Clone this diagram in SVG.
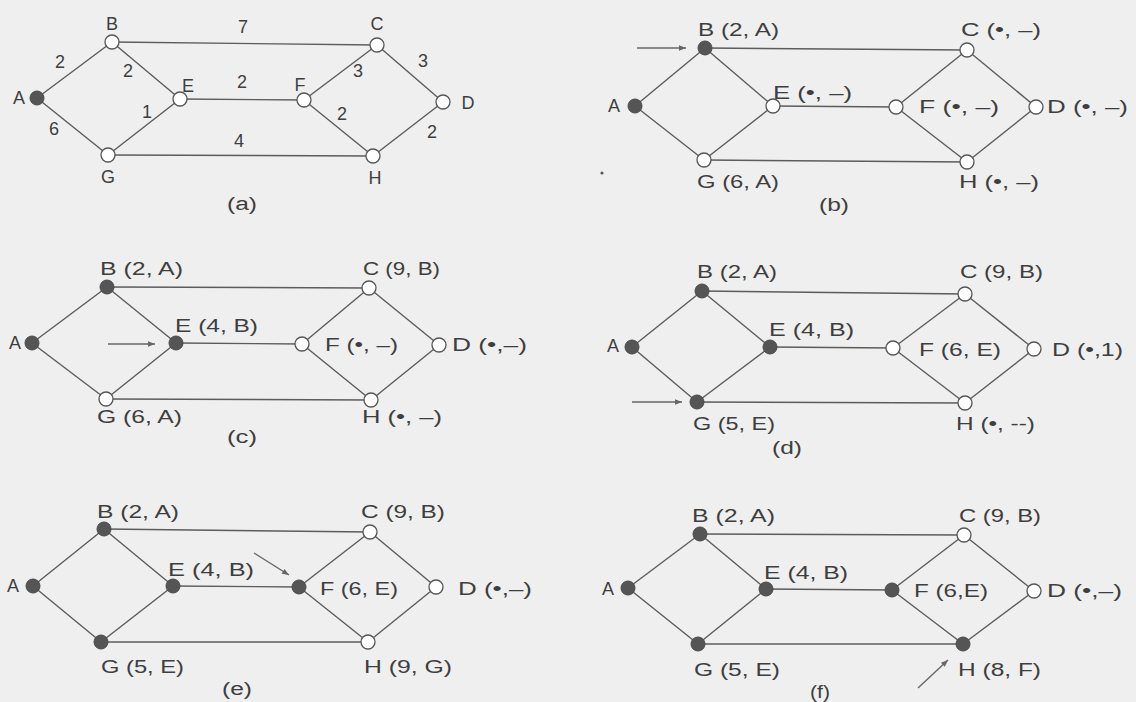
<svg xmlns="http://www.w3.org/2000/svg" width="1136" height="702" viewBox="0 0 1136 702">
<style>
.e{stroke:#5c5c5c;stroke-width:1.4;fill:none}
.o{fill:#fff;stroke:#555;stroke-width:1.3}
.f{fill:#555;stroke:#4a4a4a;stroke-width:1}
.t{font-family:"Liberation Sans",Arial,sans-serif;font-size:18px;fill:#3e3e3e}
.m{text-anchor:middle}
.ar{stroke:#666;stroke-width:1.4;fill:none;marker-end:url(#ah)}
</style>
<defs>
<marker id="ah" viewBox="0 0 10 10" refX="10" refY="5" markerWidth="10" markerHeight="7" markerUnits="userSpaceOnUse" orient="auto"><path d="M0,1 L10,5 L0,9 z" fill="#666"/></marker>
</defs>
<rect width="1136" height="702" fill="#efefef"/>
<circle cx="602" cy="173" r="1.6" fill="#555"/>
<g id="connectors">
<!-- (a) -->
<line class="e" x1="37" y1="98" x2="112" y2="42"/><line class="e" x1="37" y1="98" x2="108" y2="155"/>
<line class="e" x1="112" y1="42" x2="180" y2="99"/><line class="e" x1="108" y1="155" x2="180" y2="99"/>
<line class="e" x1="112" y1="42" x2="377" y2="45"/><line class="e" x1="180" y1="99" x2="304" y2="100"/>
<line class="e" x1="108" y1="155" x2="373" y2="156"/><line class="e" x1="304" y1="100" x2="377" y2="45"/>
<line class="e" x1="304" y1="100" x2="373" y2="156"/><line class="e" x1="377" y1="45" x2="443" y2="102"/>
<line class="e" x1="373" y1="156" x2="443" y2="102"/>
<!-- (b) -->
<line class="e" x1="635" y1="106" x2="705" y2="48"/><line class="e" x1="635" y1="106" x2="704" y2="160"/>
<line class="e" x1="705" y1="48" x2="773" y2="106"/><line class="e" x1="704" y1="160" x2="773" y2="106"/>
<line class="e" x1="705" y1="48" x2="967" y2="50"/><line class="e" x1="773" y1="106" x2="896" y2="107"/>
<line class="e" x1="704" y1="160" x2="967" y2="162"/><line class="e" x1="896" y1="107" x2="967" y2="50"/>
<line class="e" x1="896" y1="107" x2="967" y2="162"/><line class="e" x1="967" y1="50" x2="1036" y2="107"/>
<line class="e" x1="967" y1="162" x2="1036" y2="107"/>
<line class="ar" x1="637" y1="48" x2="686" y2="48"/>
<!-- (c) -->
<line class="e" x1="32" y1="343" x2="107" y2="287"/><line class="e" x1="32" y1="343" x2="106" y2="399"/>
<line class="e" x1="107" y1="287" x2="176" y2="343"/><line class="e" x1="106" y1="399" x2="176" y2="343"/>
<line class="e" x1="107" y1="287" x2="369" y2="288"/><line class="e" x1="176" y1="343" x2="302" y2="344"/>
<line class="e" x1="106" y1="399" x2="371" y2="400"/><line class="e" x1="302" y1="344" x2="369" y2="288"/>
<line class="e" x1="302" y1="344" x2="371" y2="400"/><line class="e" x1="369" y1="288" x2="439" y2="345"/>
<line class="e" x1="371" y1="400" x2="439" y2="345"/>
<line class="ar" x1="108" y1="344" x2="155" y2="344"/>
<!-- (d) -->
<line class="e" x1="632" y1="347" x2="702" y2="291"/><line class="e" x1="632" y1="347" x2="697" y2="402"/>
<line class="e" x1="702" y1="291" x2="770" y2="347"/><line class="e" x1="697" y1="402" x2="770" y2="347"/>
<line class="e" x1="702" y1="291" x2="965" y2="294"/><line class="e" x1="770" y1="347" x2="893" y2="348"/>
<line class="e" x1="697" y1="402" x2="965" y2="403"/><line class="e" x1="893" y1="348" x2="965" y2="294"/>
<line class="e" x1="893" y1="348" x2="965" y2="403"/><line class="e" x1="965" y1="294" x2="1034" y2="349"/>
<line class="e" x1="965" y1="403" x2="1034" y2="349"/>
<line class="ar" x1="632" y1="402" x2="682" y2="402"/>
<!-- (e) -->
<line class="e" x1="33" y1="586" x2="104" y2="529"/><line class="e" x1="33" y1="586" x2="101" y2="642"/>
<line class="e" x1="104" y1="529" x2="173" y2="586"/><line class="e" x1="101" y1="642" x2="173" y2="586"/>
<line class="e" x1="104" y1="529" x2="370" y2="532"/><line class="e" x1="173" y1="586" x2="299" y2="587"/>
<line class="e" x1="101" y1="642" x2="368" y2="642"/><line class="e" x1="299" y1="587" x2="370" y2="532"/>
<line class="e" x1="299" y1="587" x2="368" y2="642"/><line class="e" x1="370" y1="532" x2="436" y2="587"/>
<line class="e" x1="368" y1="642" x2="436" y2="587"/>
<line class="ar" x1="254" y1="553" x2="289" y2="575"/>
<!-- (f) -->
<line class="e" x1="628" y1="588" x2="700" y2="534"/><line class="e" x1="628" y1="588" x2="698" y2="644"/>
<line class="e" x1="700" y1="534" x2="766" y2="589"/><line class="e" x1="698" y1="644" x2="766" y2="589"/>
<line class="e" x1="700" y1="534" x2="964" y2="535"/><line class="e" x1="766" y1="589" x2="892" y2="590"/>
<line class="e" x1="698" y1="644" x2="963" y2="644"/><line class="e" x1="892" y1="590" x2="964" y2="535"/>
<line class="e" x1="892" y1="590" x2="963" y2="644"/><line class="e" x1="964" y1="535" x2="1034" y2="591"/>
<line class="e" x1="963" y1="644" x2="1034" y2="591"/>
<line class="ar" x1="918" y1="688" x2="948" y2="660"/>
</g>
<g id="weights-a" class="t m">
<text x="243" y="33">7</text><text x="60" y="68">2</text><text x="128" y="77">2</text>
<text x="54" y="135">6</text><text x="147" y="118">1</text><text x="242" y="88">2</text>
<text x="358" y="77">3</text><text x="423" y="67">3</text><text x="342" y="120">2</text>
<text x="432" y="138">2</text><text x="239" y="147">4</text>
</g>
<!-- panel (a) nodes -->
<g id="a-A"><circle class="f" cx="37" cy="98" r="7"/><text class="t m" x="19" y="104">A</text></g>
<g id="a-B"><circle class="o" cx="112" cy="42" r="7"/><text class="t m" x="112" y="30">B</text></g>
<g id="a-C"><circle class="o" cx="377" cy="45" r="7"/><text class="t m" x="377" y="30">C</text></g>
<g id="a-E"><circle class="o" cx="180" cy="99" r="7"/><text class="t m" x="188" y="92">E</text></g>
<g id="a-F"><circle class="o" cx="304" cy="100" r="7"/><text class="t m" x="300" y="91">F</text></g>
<g id="a-D"><circle class="o" cx="443" cy="102" r="7"/><text class="t m" x="468" y="109">D</text></g>
<g id="a-G"><circle class="o" cx="108" cy="155" r="7"/><text class="t m" x="108" y="183">G</text></g>
<g id="a-H"><circle class="o" cx="373" cy="156" r="7"/><text class="t m" x="375" y="184">H</text></g>
<text class="t m" x="242" y="210" textLength="30" lengthAdjust="spacingAndGlyphs">(a)</text>
<!-- panel (b) nodes -->
<g id="b-A"><circle class="f" cx="635" cy="106" r="7"/><text class="t m" x="614" y="112">A</text></g>
<g id="b-B"><circle class="f" cx="705" cy="48" r="7"/><text class="t" x="698" y="36" textLength="81" lengthAdjust="spacingAndGlyphs">B (2, A)</text></g>
<g id="b-C"><circle class="o" cx="967" cy="50" r="7"/><text class="t" x="961" y="36" textLength="80" lengthAdjust="spacingAndGlyphs">C (•, –)</text></g>
<g id="b-E"><circle class="o" cx="773" cy="106" r="7"/><text class="t" x="773" y="99" textLength="79" lengthAdjust="spacingAndGlyphs">E (•, –)</text></g>
<g id="b-F"><circle class="o" cx="896" cy="107" r="7"/><text class="t" x="919" y="113" textLength="80" lengthAdjust="spacingAndGlyphs">F (•, –)</text></g>
<g id="b-D"><circle class="o" cx="1036" cy="107" r="7"/><text class="t" x="1047" y="113" textLength="81" lengthAdjust="spacingAndGlyphs">D (•, –)</text></g>
<g id="b-G"><circle class="o" cx="704" cy="160" r="7"/><text class="t" x="697" y="188" textLength="82" lengthAdjust="spacingAndGlyphs">G (6, A)</text></g>
<g id="b-H"><circle class="o" cx="967" cy="162" r="7"/><text class="t" x="959" y="188" textLength="80" lengthAdjust="spacingAndGlyphs">H (•, –)</text></g>
<text class="t m" x="834" y="211" textLength="30" lengthAdjust="spacingAndGlyphs">(b)</text>
<!-- panel (c) nodes -->
<g id="c-A"><circle class="f" cx="32" cy="343" r="7"/><text class="t m" x="15" y="349">A</text></g>
<g id="c-B"><circle class="f" cx="107" cy="287" r="7"/><text class="t" x="100" y="275" textLength="83" lengthAdjust="spacingAndGlyphs">B (2, A)</text></g>
<g id="c-C"><circle class="o" cx="369" cy="288" r="7"/><text class="t" x="363" y="275" textLength="77" lengthAdjust="spacingAndGlyphs">C (9, B)</text></g>
<g id="c-E"><circle class="f" cx="176" cy="343" r="7"/><text class="t" x="175" y="332" textLength="83" lengthAdjust="spacingAndGlyphs">E (4, B)</text></g>
<g id="c-F"><circle class="o" cx="302" cy="344" r="7"/><text class="t" x="325" y="351" textLength="73" lengthAdjust="spacingAndGlyphs">F (•, –)</text></g>
<g id="c-D"><circle class="o" cx="439" cy="345" r="7"/><text class="t" x="452" y="351" textLength="75" lengthAdjust="spacingAndGlyphs">D (•,–)</text></g>
<g id="c-G"><circle class="o" cx="106" cy="399" r="7"/><text class="t" x="97" y="423" textLength="85" lengthAdjust="spacingAndGlyphs">G (6, A)</text></g>
<g id="c-H"><circle class="o" cx="371" cy="400" r="7"/><text class="t" x="362" y="423" textLength="80" lengthAdjust="spacingAndGlyphs">H (•, –)</text></g>
<text class="t m" x="242" y="443" textLength="30" lengthAdjust="spacingAndGlyphs">(c)</text>
<!-- panel (d) nodes -->
<g id="d-A"><circle class="f" cx="632" cy="347" r="7"/><text class="t m" x="613" y="352">A</text></g>
<g id="d-B"><circle class="f" cx="702" cy="291" r="7"/><text class="t" x="697" y="278" textLength="80" lengthAdjust="spacingAndGlyphs">B (2, A)</text></g>
<g id="d-C"><circle class="o" cx="965" cy="294" r="7"/><text class="t" x="960" y="278" textLength="83" lengthAdjust="spacingAndGlyphs">C (9, B)</text></g>
<g id="d-E"><circle class="f" cx="770" cy="347" r="7"/><text class="t" x="769" y="336" textLength="85" lengthAdjust="spacingAndGlyphs">E (4, B)</text></g>
<g id="d-F"><circle class="o" cx="893" cy="348" r="7"/><text class="t" x="919" y="356" textLength="82" lengthAdjust="spacingAndGlyphs">F (6, E)</text></g>
<g id="d-D"><circle class="o" cx="1034" cy="349" r="7"/><text class="t" x="1052" y="356" textLength="71" lengthAdjust="spacingAndGlyphs">D (•,1)</text></g>
<g id="d-G"><circle class="f" cx="697" cy="402" r="7"/><text class="t" x="693" y="430" textLength="82" lengthAdjust="spacingAndGlyphs">G (5, E)</text></g>
<g id="d-H"><circle class="o" cx="965" cy="403" r="7"/><text class="t" x="956" y="430" textLength="79" lengthAdjust="spacingAndGlyphs">H (•, --)</text></g>
<text class="t m" x="787" y="454" textLength="30" lengthAdjust="spacingAndGlyphs">(d)</text>
<!-- panel (e) nodes -->
<g id="e-A"><circle class="f" cx="33" cy="586" r="7"/><text class="t m" x="13" y="592">A</text></g>
<g id="e-B"><circle class="f" cx="104" cy="529" r="7"/><text class="t" x="97" y="518" textLength="82" lengthAdjust="spacingAndGlyphs">B (2, A)</text></g>
<g id="e-C"><circle class="o" cx="370" cy="532" r="7"/><text class="t" x="361" y="518" textLength="84" lengthAdjust="spacingAndGlyphs">C (9, B)</text></g>
<g id="e-E"><circle class="f" cx="173" cy="586" r="7"/><text class="t" x="168" y="576" textLength="86" lengthAdjust="spacingAndGlyphs">E (4, B)</text></g>
<g id="e-F"><circle class="f" cx="299" cy="587" r="7"/><text class="t" x="320" y="595" textLength="78" lengthAdjust="spacingAndGlyphs">F (6, E)</text></g>
<g id="e-D"><circle class="o" cx="436" cy="587" r="7"/><text class="t" x="458" y="595" textLength="74" lengthAdjust="spacingAndGlyphs">D (•,–)</text></g>
<g id="e-G"><circle class="f" cx="101" cy="642" r="7"/><text class="t" x="101" y="673" textLength="83" lengthAdjust="spacingAndGlyphs">G (5, E)</text></g>
<g id="e-H"><circle class="o" cx="368" cy="642" r="7"/><text class="t" x="364" y="673" textLength="88" lengthAdjust="spacingAndGlyphs">H (9, G)</text></g>
<text class="t m" x="237" y="695" textLength="30" lengthAdjust="spacingAndGlyphs">(e)</text>
<!-- panel (f) nodes -->
<g id="f-A"><circle class="f" cx="628" cy="588" r="7"/><text class="t m" x="608" y="595">A</text></g>
<g id="f-B"><circle class="f" cx="700" cy="534" r="7"/><text class="t" x="692" y="522" textLength="83" lengthAdjust="spacingAndGlyphs">B (2, A)</text></g>
<g id="f-C"><circle class="o" cx="964" cy="535" r="7"/><text class="t" x="959" y="522" textLength="82" lengthAdjust="spacingAndGlyphs">C (9, B)</text></g>
<g id="f-E"><circle class="f" cx="766" cy="589" r="7"/><text class="t" x="764" y="579" textLength="84" lengthAdjust="spacingAndGlyphs">E (4, B)</text></g>
<g id="f-F"><circle class="f" cx="892" cy="590" r="7"/><text class="t" x="914" y="597" textLength="74" lengthAdjust="spacingAndGlyphs">F (6,E)</text></g>
<g id="f-D"><circle class="o" cx="1034" cy="591" r="7"/><text class="t" x="1047" y="597" textLength="75" lengthAdjust="spacingAndGlyphs">D (•,–)</text></g>
<g id="f-G"><circle class="f" cx="698" cy="644" r="7"/><text class="t" x="694" y="676" textLength="86" lengthAdjust="spacingAndGlyphs">G (5, E)</text></g>
<g id="f-H"><circle class="f" cx="963" cy="644" r="7"/><text class="t" x="958" y="676" textLength="83" lengthAdjust="spacingAndGlyphs">H (8, F)</text></g>
<text class="t m" x="820" y="698" textLength="20" lengthAdjust="spacingAndGlyphs">(f)</text>
</svg>
